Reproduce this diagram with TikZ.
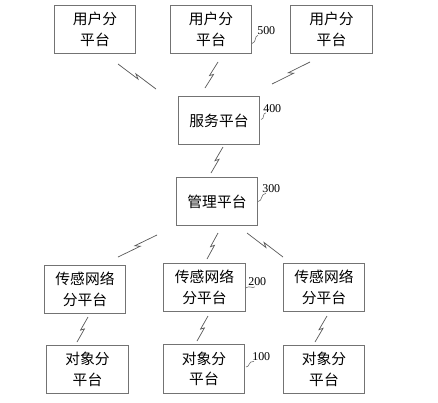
\documentclass[tikz,border=0pt]{standalone}
\usepackage{fontspec}
\setmainfont{Liberation Serif}
\newfontfamily\cjk{Noto Sans CJK SC}
\usetikzlibrary{calc}
\colorlet{edge}{black!55}
\tikzset{unit/.style={draw=edge,line width=0.6pt,minimum width=2.03cm,minimum height=1.22cm,align=center,inner sep=0pt,font=\cjk\fontsize{10.5}{14.5}\selectfont}}
\tikzset{bolt/.style={draw=black!65,line width=0.5pt,to path={-- ($(\tikztostart)!0.55!(\tikztotarget)!1.1pt!-90:(\tikztotarget)$) -- ($(\tikztostart)!0.45!(\tikztotarget)!1.1pt!90:(\tikztotarget)$) -- (\tikztotarget)}}}
\tikzset{tag/.style={anchor=west,inner sep=0pt,font=\fontsize{8.5}{9}\selectfont}}
\tikzset{lead/.style={draw=black!60,line width=0.4pt}}

\begin{document}
\begin{tikzpicture}[x=0.025cm,y=-0.025cm]
	    \useasboundingbox (0,0) rectangle (438,402);
	    % user layer
	    \node[unit] (u1) at (95,29.5) {用户分\\平台};
	    \node[unit] (u2) at (211,29.5) {用户分\\平台};
	    \node[unit] (u3) at (331.5,29.5) {用户分\\平台};
	    % service and management
	    \node[unit] (srv) at (219,120.5) {服务平台};
	    \node[unit] (mgr) at (217,201.5) {管理平台};
	    % sensor network layer
	    \node[unit] (s1) at (85,289.5) {传感网络\\分平台};
	    \node[unit] (s2) at (204.5,287.5) {传感网络\\分平台};
	    \node[unit] (s3) at (324,287.5) {传感网络\\分平台};
	    % object layer
	    \node[unit] (o1) at (87.5,369.5) {对象分\\平台};
	    \node[unit] (o2) at (204,369) {对象分\\平台};
	    \node[unit] (o3) at (324,369.5) {对象分\\平台};
	    % wireless links
	    \foreach \n/\ax/\ay/\bx/\by in {1/118/64/156/89, 2/218/62/205/88, 3/310/62/272/84, 4/223/147/211/173, 5/157/235/118/257, 6/218/233/207/259, 7/247/233/283/257, 8/88/317/77/342, 9/208/316/197/341, 10/327/316/315/342} {
	        \coordinate (w\n a) at (\ax,\ay);
	        \coordinate (w\n b) at (\bx,\by);
	        \draw[bolt] (w\n a) to (w\n b);
	    }
	    % reference numbers
	    \node[tag] (n500) at (257,31) {500};
	    \node[tag] (n400) at (263,108.5) {400};
	    \node[tag] (n300) at (262,189) {300};
	    \node[tag] (n200) at (248,281.5) {200};
	    \node[tag] (n100) at (252,357) {100};
	    \draw[lead] ($(u2.east)+(0,14)$) .. controls (257,42) and (254,36) .. ($(n500.south west)+(1,0)$);
	    \draw[lead] ($(srv.east)+(1,-1)$) .. controls (265,119) and (262,113) .. ($(n400.south west)+(3,0)$);
	    \draw[lead] ($(mgr.east)+(0,0)$) .. controls (263,201) and (260,194) .. ($(n300.south west)+(4,0)$);
	    \draw[lead] ($(s2.east)+(0,0.5)$) .. controls (250,285) and (252,289) .. ($(n200.south west)+(7,1)$);
	    \draw[lead] ($(o2.east)+(1,-2)$) .. controls (250,367) and (248,361) .. ($(n100.south west)+(2,0)$);
        \end{tikzpicture}
\end{document}
